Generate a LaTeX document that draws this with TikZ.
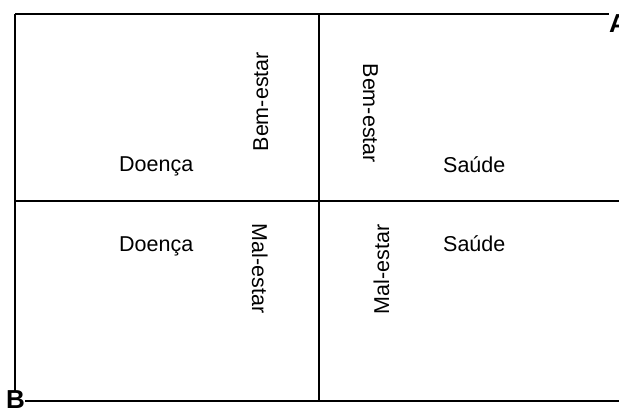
\documentclass[tikz,border=0pt]{standalone}
\usepackage{fontspec}
\setmainfont{Liberation Sans}
\usepackage{tikz}
\usetikzlibrary{positioning}

\begin{document}
\begin{tikzpicture}[x=1pt, y=-1pt,
  quad/.style={line width=1.8pt, black},
  word/.style={font=\fontsize{21.5}{25}\selectfont, inner sep=0pt, anchor=base west},
  upword/.style={word, rotate=90},
  downword/.style={word, rotate=-90},
  corner/.style={font=\fontsize{26}{28}\selectfont\bfseries, inner sep=0pt, anchor=base west}
]
\useasboundingbox (0,0) rectangle (619,411);

% frame of the four quadrants
\coordinate (topleft) at (15,14);
\coordinate (midleft) at (15,201);
\coordinate (midright) at (619,201);
\coordinate (midtop) at (319,14);
\coordinate (midbottom) at (319,401);
\coordinate (bottomright) at (619,401);

\node[corner] (A) at (609,32.5) {A};
\node[corner] (B) at (6,409) {B};

\draw[quad] (topleft) -- (A.west |- topleft);
\draw[quad] (topleft) -- (topleft |- B.north);
\draw[quad] (B.east |- bottomright) -- (bottomright);
\draw[quad] (midleft) -- (midright);
\draw[quad] (midtop) -- (midbottom);

% upper quadrants
\node[word] (doencaup) at (119,172) {Doença};
\node[upword] (bemleft) at (268,151.5) {Bem-estar};
\node[downword] (bemright) at (363,63.5) {Bem-estar};
\node[word] (saudeup) at (443,173) {Saúde};

% lower quadrants
\node[word] (doencalow) at (119,252) {Doença};
\node[downword] (malleft) at (252,223.5) {Mal-estar};
\node[upword] (malright) at (389,314.5) {Mal-estar};
\node[word] (saudelow) at (443,252) {Saúde};
\end{tikzpicture}
\end{document}
